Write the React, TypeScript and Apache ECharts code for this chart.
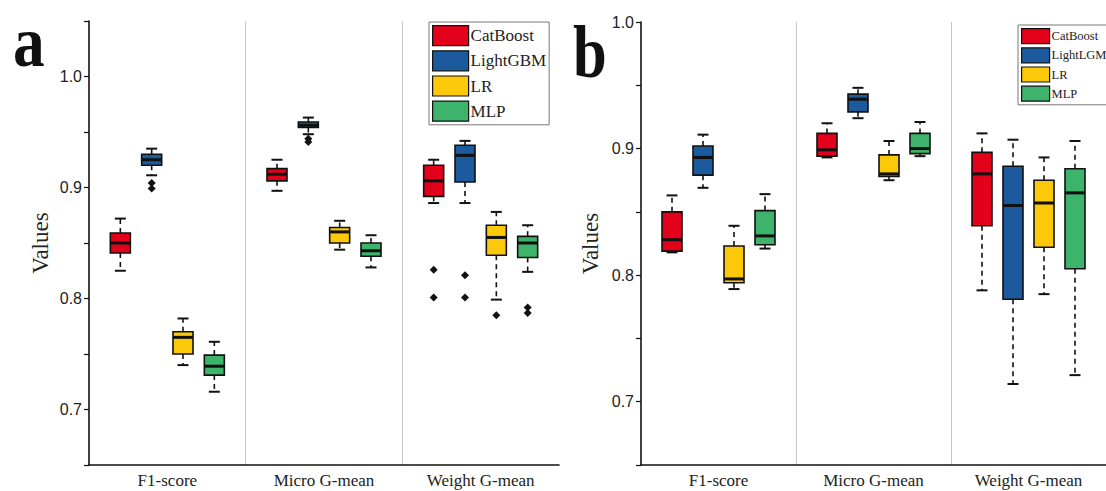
import React, { useEffect, useRef } from 'react';
import * as echarts from 'echarts';

const categories = ['F1-score', 'Micro G-mean', 'Weight G-mean'];
const modelsA = ['CatBoost', 'LightGBM', 'LR', 'MLP'];
const modelsB = ['CatBoost', 'LightLGM', 'LR', 'MLP'];
const colors = ['#e2001a', '#1c5a9e', '#fcc80a', '#3db36b'];
const yTickLabels = ['0.7', '0.8', '0.9', '1.0'];

// each row: [min, q1, median, q3, max] for F1-score, Micro G-mean, Weight G-mean
const boxA_CatBoost = [[0.825, 0.841, 0.850, 0.859, 0.872], [0.897, 0.906, 0.912, 0.917, 0.925], [0.886, 0.892, 0.906, 0.920, 0.925]];
const boxA_LightGBM = [[0.911, 0.920, 0.925, 0.930, 0.935], [0.948, 0.954, 0.956, 0.959, 0.963], [0.886, 0.905, 0.929, 0.938, 0.942]];
const boxA_LR = [[0.740, 0.750, 0.765, 0.770, 0.782], [0.844, 0.850, 0.860, 0.864, 0.870], [0.799, 0.839, 0.855, 0.866, 0.878]];
const boxA_MLP = [[0.716, 0.731, 0.739, 0.749, 0.761], [0.828, 0.838, 0.843, 0.850, 0.857], [0.824, 0.837, 0.850, 0.856, 0.866]];

// outliers: [categoryIndex, value]
const outA_CatBoost = [[2, 0.826], [2, 0.801]];
const outA_LightGBM = [[0, 0.904], [0, 0.899], [1, 0.944], [1, 0.941], [2, 0.821], [2, 0.801]];
const outA_LR = [[2, 0.785]];
const outA_MLP = [[2, 0.792], [2, 0.787]];

const boxB_CatBoost = [[0.818, 0.819, 0.828, 0.850, 0.863], [0.893, 0.894, 0.899, 0.912, 0.920], [0.788, 0.839, 0.880, 0.897, 0.912]];
const boxB_LightLGM = [[0.869, 0.879, 0.893, 0.902, 0.911], [0.924, 0.929, 0.939, 0.943, 0.948], [0.714, 0.781, 0.855, 0.886, 0.907]];
const boxB_LR = [[0.789, 0.794, 0.797, 0.823, 0.839], [0.875, 0.878, 0.880, 0.895, 0.906], [0.785, 0.822, 0.857, 0.875, 0.893]];
const boxB_MLP = [[0.821, 0.824, 0.831, 0.851, 0.864], [0.894, 0.896, 0.900, 0.912, 0.921], [0.721, 0.805, 0.865, 0.884, 0.906]];

const boxesA = [boxA_CatBoost, boxA_LightGBM, boxA_LR, boxA_MLP];
const outsA = [outA_CatBoost, outA_LightGBM, outA_LR, outA_MLP];
const boxesB = [boxB_CatBoost, boxB_LightLGM, boxB_LR, boxB_MLP];
const outsB: number[][][] = [[], [], [], []];

const offsets = [-0.3, -0.1, 0.1, 0.3];
const BOX_W = 20;
const CAP_W = 11;

function boxRender(k: number, color: string) {
  return (params: any, api: any) => {
    const cat = api.value(0);
    const mn = api.value(1), q1 = api.value(2), md = api.value(3), q3 = api.value(4), mx = api.value(5);
    const band = api.size([1, 0])[0];
    const cx = api.coord([cat, md])[0] + offsets[k] * band;
    const y = (v: number) => api.coord([cat, v])[1];
    const wStyle = { stroke: '#111', lineWidth: 1.6, lineDash: [5, 4] };
    const cStyle = { stroke: '#111', lineWidth: 2 };
    return {
      type: 'group',
      children: [
        { type: 'line', shape: { x1: cx, y1: y(q3), x2: cx, y2: y(mx) }, style: wStyle },
        { type: 'line', shape: { x1: cx, y1: y(q1), x2: cx, y2: y(mn) }, style: wStyle },
        { type: 'line', shape: { x1: cx - CAP_W / 2, y1: y(mx), x2: cx + CAP_W / 2, y2: y(mx) }, style: cStyle },
        { type: 'line', shape: { x1: cx - CAP_W / 2, y1: y(mn), x2: cx + CAP_W / 2, y2: y(mn) }, style: cStyle },
        { type: 'rect', shape: { x: cx - BOX_W / 2, y: y(q3), width: BOX_W, height: y(q1) - y(q3) }, style: { fill: color, stroke: '#111', lineWidth: 1.6 } },
        { type: 'line', shape: { x1: cx - BOX_W / 2, y1: y(md), x2: cx + BOX_W / 2, y2: y(md) }, style: { stroke: '#111', lineWidth: 3 } },
      ],
    };
  };
}

function outRender(k: number) {
  return (params: any, api: any) => {
    const cat = api.value(0);
    const v = api.value(1);
    const band = api.size([1, 0])[0];
    const p = api.coord([cat, v]);
    const cx = p[0] + offsets[k] * band;
    const cy = p[1];
    const r = 4;
    return {
      type: 'polygon',
      shape: { points: [[cx, cy - r], [cx + r, cy], [cx, cy + r], [cx - r, cy]] },
      style: { fill: '#111' },
    };
  };
}

const yLabelFormatter = (v: number) => {
  const s = v.toFixed(1);
  return Math.abs(v * 10 - Math.round(v * 10)) < 1e-6 && yTickLabels.includes(s) ? s : '';
};

function makeXAxis(gi: number) {
  return {
    gridIndex: gi,
    type: 'category',
    data: categories,
    boundaryGap: true,
    axisLine: { lineStyle: { color: '#111', width: 1.6 } },
    axisTick: { show: false },
    axisLabel: { fontFamily: 'Liberation Serif', fontSize: 17, color: '#222', margin: 7 },
    splitLine: { show: true, showMinLine: false, showMaxLine: false, lineStyle: { color: '#c8c8c8', width: 1 } },
  };
}

function makeYAxis(gi: number, max: number, gap: number) {
  return {
    gridIndex: gi,
    type: 'value',
    min: 0.65,
    max,
    interval: 0.05,
    name: 'Values',
    nameLocation: 'middle',
    nameGap: gap,
    nameTextStyle: { fontFamily: 'Liberation Serif', fontSize: 23, color: '#222' },
    axisLine: { show: true, lineStyle: { color: '#111', width: 1.6 } },
    axisTick: { show: true, length: 5, lineStyle: { color: '#111', width: 1.2 } },
    axisLabel: { formatter: yLabelFormatter, fontFamily: 'Liberation Sans', fontSize: 16, color: '#222', margin: 7 },
    splitLine: { show: false },
  };
}

export default function App() {
  const ref = useRef<HTMLDivElement>(null);
  useEffect(() => {
    document.body.style.margin = '0';
    const chart = echarts.init(ref.current!, undefined, { renderer: 'svg' });
    const series: any[] = [];
    [boxesA, boxesB].forEach((boxes, p) => {
      const names = p === 0 ? modelsA : modelsB;
      boxes.forEach((rows, k) => {
        series.push({
          type: 'custom',
          name: names[k],
          xAxisIndex: p,
          yAxisIndex: p,
          itemStyle: { color: colors[k] },
          encode: { x: 0, y: [1, 2, 3, 4, 5] },
          data: rows.map((r, ci) => [ci, ...r]),
          renderItem: boxRender(k, colors[k]),
        });
      });
      const outs = p === 0 ? outsA : outsB;
      outs.forEach((pts, k) => {
        if (!pts.length) return;
        series.push({
          type: 'custom',
          name: names[k] + ' outliers',
          xAxisIndex: p,
          yAxisIndex: p,
          encode: { x: 0, y: 1 },
          data: pts,
          renderItem: outRender(k),
        });
      });
    });
    const legendCommon = {
      orient: 'vertical',
      icon: 'rect',
      borderColor: '#777',
      borderWidth: 1,
      backgroundColor: '#fff',
      itemStyle: { borderColor: '#111', borderWidth: 1.2 },
      selectedMode: false,
    };
    chart.setOption({
      animation: false,
      backgroundColor: '#fff',
      grid: [
        { left: 89, top: 21, width: 470, height: 444 },
        { left: 641, top: 22, width: 468, height: 443 },
      ],
      xAxis: [makeXAxis(0), makeXAxis(1)],
      yAxis: [makeYAxis(0, 1.05, 37), makeYAxis(1, 1.0, 39)],
      legend: [
        {
          ...legendCommon,
          data: modelsA.map((n, i) => ({ name: n, itemStyle: { color: colors[i] } })),
          left: 429, top: 22,
          itemWidth: 36, itemHeight: 20, itemGap: 4,
          padding: [3, 3, 3, 3],
          textStyle: { fontFamily: 'Liberation Serif', fontSize: 17, color: '#222', padding: [0, 0, 0, -3] },
        },
        {
          ...legendCommon,
          data: modelsB.map((n, i) => ({ name: n, itemStyle: { color: colors[i] } })),
          left: 1018, top: 25,
          itemWidth: 28, itemHeight: 15, itemGap: 3,
          padding: [3, 2, 3, 3],
          textStyle: { fontFamily: 'Liberation Serif', fontSize: 12.5, color: '#222', padding: [0, 0, 0, -3] },
        },
      ],
      graphic: [
        { type: 'text', x: 13, y: 6, scaleX: 0.88, style: { text: 'a', fontFamily: 'Liberation Serif', fontWeight: 'bold', fontSize: 72, fill: '#111', verticalAlign: 'top' } },
        { type: 'text', x: 573, y: 15, scaleX: 0.82, style: { text: 'b', fontFamily: 'Liberation Serif', fontWeight: 'bold', fontSize: 74, fill: '#111', verticalAlign: 'top' } },
      ],
      series,
    });
    return () => chart.dispose();
  }, []);
  return <div ref={ref} style={{ width: 1106, height: 491 }} />;
}
